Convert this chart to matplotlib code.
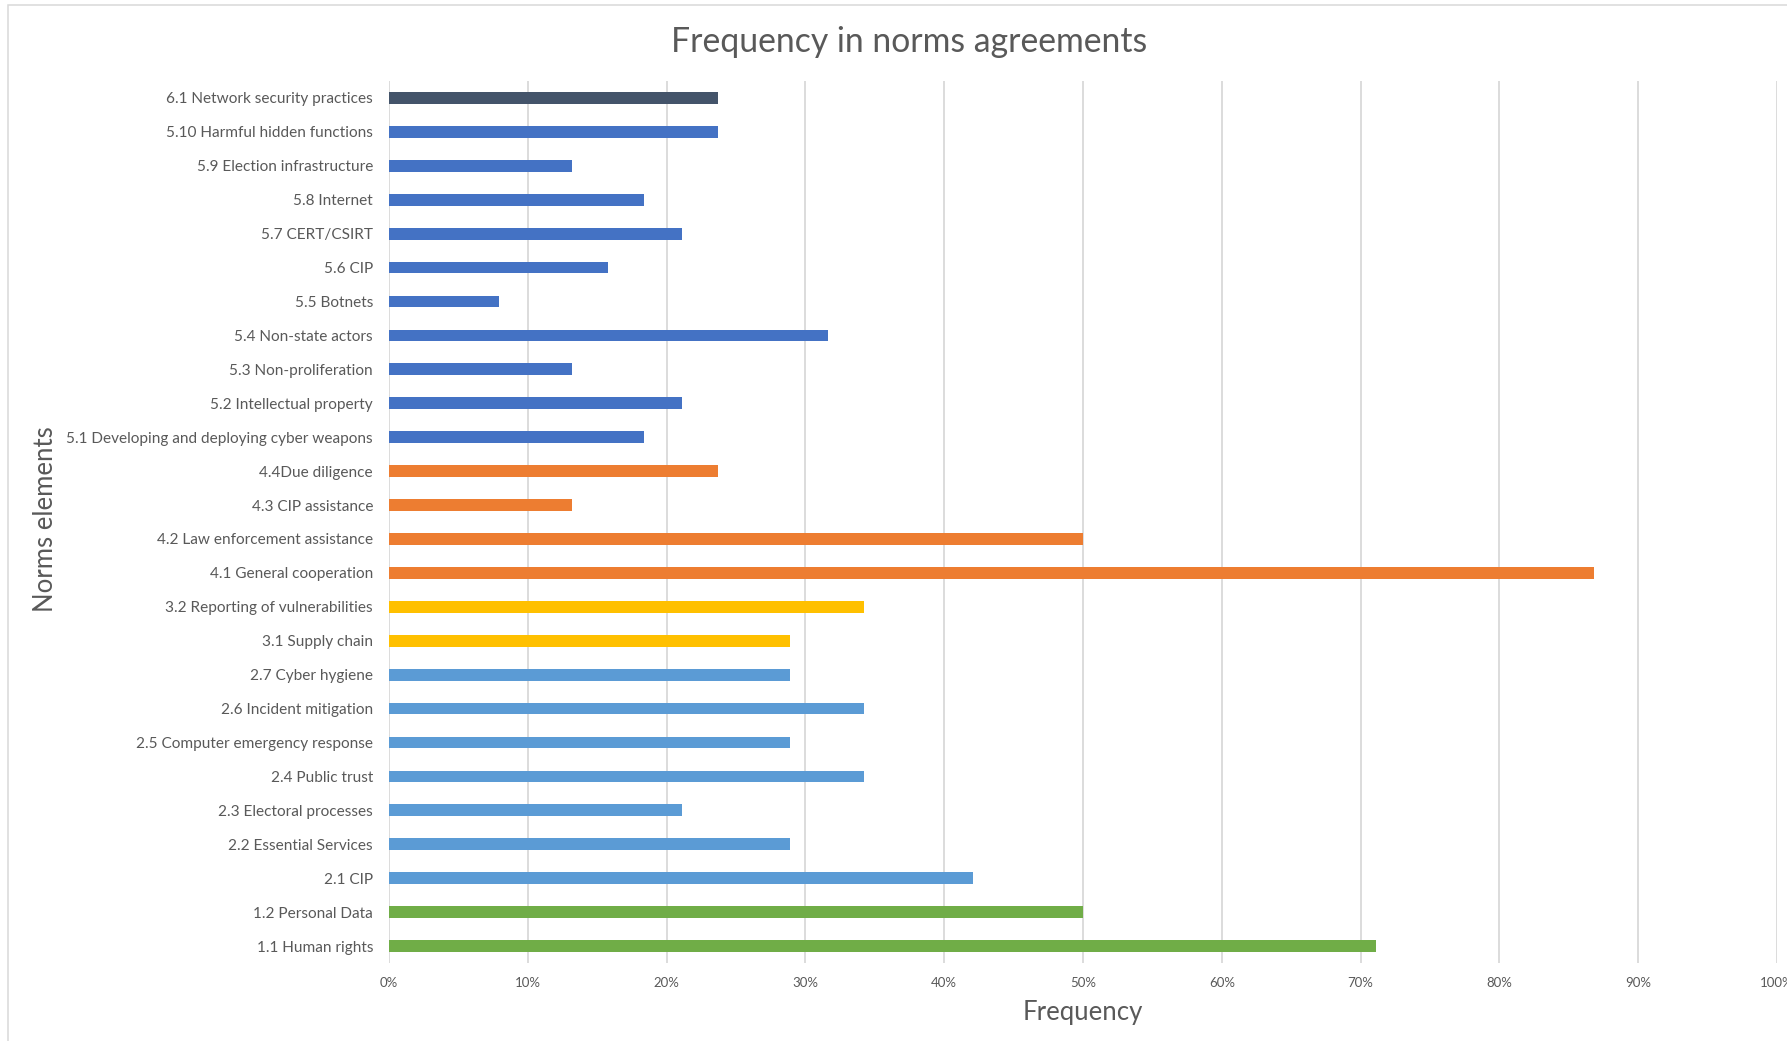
import matplotlib
matplotlib.use("Agg")
import matplotlib.pyplot as plt
from matplotlib.patches import Rectangle
from matplotlib.ticker import FuncFormatter, MultipleLocator

plt.rcParams["font.family"] = ["Lato", "DejaVu Sans"]

TEXT = "#595959"
GRID = "#D9D9D9"

# norms elements, bottom to top
labels = [
    "1.1 Human rights", "1.2 Personal Data",
    "2.1 CIP", "2.2 Essential Services", "2.3 Electoral processes",
    "2.4 Public trust", "2.5 Computer emergency response",
    "2.6 Incident mitigation", "2.7 Cyber hygiene",
    "3.1 Supply chain", "3.2 Reporting of vulnerabilities",
    "4.1 General cooperation", "4.2 Law enforcement assistance",
    "4.3 CIP assistance", "4.4Due diligence",
    "5.1 Developing and deploying cyber weapons", "5.2 Intellectual property",
    "5.3 Non-proliferation", "5.4 Non-state actors", "5.5 Botnets",
    "5.6 CIP", "5.7 CERT/CSIRT", "5.8 Internet", "5.9 Election infrastructure",
    "5.10 Harmful hidden functions", "6.1 Network security practices",
]
# share of agreements mentioning each element
frequency = [
    0.711, 0.500,
    0.421, 0.289, 0.211, 0.342, 0.289, 0.342, 0.289,
    0.289, 0.342,
    0.868, 0.500, 0.132, 0.237,
    0.184, 0.211, 0.132, 0.316, 0.079, 0.158, 0.211, 0.184, 0.132, 0.237,
    0.237,
]
# group of each element (first digit of the label)
group = [1, 1, 2, 2, 2, 2, 2, 2, 2, 3, 3, 4, 4, 4, 4,
         5, 5, 5, 5, 5, 5, 5, 5, 5, 5, 6]
group_colors = {1: "#70AD47", 2: "#5B9BD5", 3: "#FFC000",
                4: "#ED7D31", 5: "#4472C4", 6: "#44546A"}

W, H = 1787, 1041
fig = plt.figure(figsize=(W / 100, H / 100), dpi=100)

# chart area outline
fig.patches.append(Rectangle((8 / W, -0.1), 1.2, 1.1 - 5 / H,
                             transform=fig.transFigure, fill=False,
                             edgecolor=GRID, linewidth=1.1))

ax = fig.add_axes([389 / W, 1 - 963 / H, (1777 - 389) / W, (963 - 81) / H])
y = range(len(labels))
ax.barh(y, frequency, height=0.345, color=[group_colors[g] for g in group],
        zorder=3)

ax.set_xlim(0, 1)
ax.set_ylim(-0.5, len(labels) - 0.5)
ax.xaxis.set_major_locator(MultipleLocator(0.1))
ax.xaxis.set_major_formatter(FuncFormatter(lambda v, _: f"{v:.0%}"))
ax.set_yticks(list(y))
ax.set_yticklabels(labels)
ax.grid(axis="x", color=GRID, linewidth=1.3, zorder=0)
for s in ax.spines.values():
    s.set_visible(False)
ax.tick_params(axis="both", length=0, colors=TEXT)
ax.tick_params(axis="x", labelsize=9.5, pad=10)
ax.tick_params(axis="y", labelsize=11.1, pad=11.5)

fig.text(909.5 / W, 1 - 52 / H, "Frequency in norms agreements",
         ha="center", va="baseline", fontsize=24.3, color=TEXT)
fig.text(1083 / W, 1 - 1020 / H, "Frequency",
         ha="center", va="baseline", fontsize=18.5, color=TEXT)
fig.text(46 / W, 522 / H, "Norms elements", rotation=90,
         ha="center", va="center", fontsize=18.5, color=TEXT)

fig.savefig("out.png", dpi=100)
